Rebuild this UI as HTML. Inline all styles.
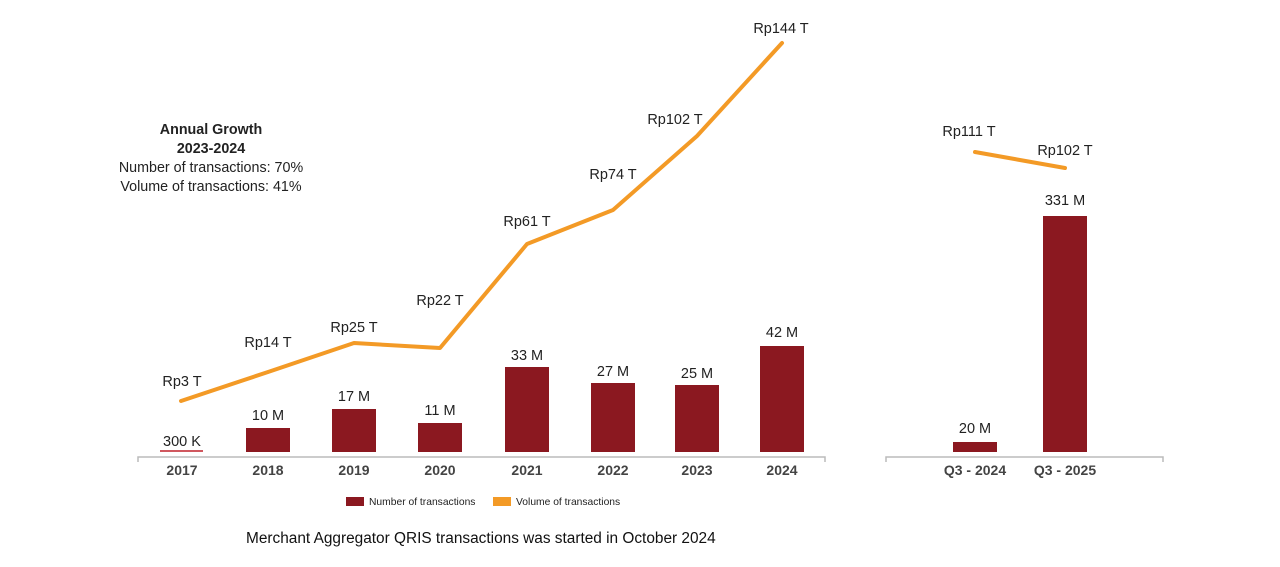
<!DOCTYPE html>
<html><head><style>
html,body{margin:0;padding:0;background:#fff;}
svg{display:block;font-family:"Liberation Sans",sans-serif;}
</style></head><body>
<svg width="1280" height="567" viewBox="0 0 1280 567">
<rect width="1280" height="567" fill="#fff"/>
<g fill="#222" font-size="14.3" text-anchor="middle">
<text x="211" y="134" font-weight="bold">Annual Growth</text>
<text x="211" y="153" font-weight="bold">2023-2024</text>
<text x="211" y="172">Number of transactions: 70%</text>
<text x="211" y="191">Volume of transactions: 41%</text>
</g>
<g stroke="#bbb" stroke-width="1.5" fill="none">
<path d="M138 462 V457 H825 V462"/>
<path d="M886 462 V457 H1163 V462"/>
</g>
<g fill="#8b1820">
<rect x="246" y="428" width="44" height="24"/>
<rect x="332" y="409" width="44" height="43"/>
<rect x="418" y="423" width="44" height="29"/>
<rect x="505" y="367" width="44" height="85"/>
<rect x="591" y="383" width="44" height="69"/>
<rect x="675" y="385" width="44" height="67"/>
<rect x="760" y="346" width="44" height="106"/>
<rect x="953" y="442" width="44" height="10"/>
<rect x="1043" y="216" width="44" height="236"/>
</g>
<line x1="160" y1="451" x2="203" y2="451" stroke="#c0202a" stroke-width="1.5"/>
<g fill="none" stroke="#f39a26" stroke-width="4" stroke-linecap="round" stroke-linejoin="round">
<polyline points="181,401 268,372 354,343 440,348 527,244 613,210 697,136 782,43"/>
<polyline points="975,152 1065,168"/>
</g>
<g fill="#222" font-size="14.5" text-anchor="middle">
<text x="182" y="386">Rp3 T</text>
<text x="268" y="347">Rp14 T</text>
<text x="354" y="332">Rp25 T</text>
<text x="440" y="305">Rp22 T</text>
<text x="527" y="226">Rp61 T</text>
<text x="613" y="179">Rp74 T</text>
<text x="675" y="124">Rp102 T</text>
<text x="781" y="33">Rp144 T</text>
<text x="969" y="136">Rp111 T</text>
<text x="1065" y="155">Rp102 T</text>
<text x="182" y="446">300 K</text>
<text x="268" y="420">10 M</text>
<text x="354" y="401">17 M</text>
<text x="440" y="415">11 M</text>
<text x="527" y="360">33 M</text>
<text x="613" y="376">27 M</text>
<text x="697" y="378">25 M</text>
<text x="782" y="337">42 M</text>
<text x="975" y="433">20 M</text>
<text x="1065" y="205">331 M</text>
</g>
<g fill="#444" font-size="14" font-weight="bold" text-anchor="middle">
<text x="182" y="475">2017</text>
<text x="268" y="475">2018</text>
<text x="354" y="475">2019</text>
<text x="440" y="475">2020</text>
<text x="527" y="475">2021</text>
<text x="613" y="475">2022</text>
<text x="697" y="475">2023</text>
<text x="782" y="475">2024</text>
<text x="975" y="475">Q3 - 2024</text>
<text x="1065" y="475">Q3 - 2025</text>
</g>
<rect x="346" y="497" width="18" height="9" fill="#8b1820"/>
<text x="369" y="505" font-size="10.3" fill="#222">Number of transactions</text>
<rect x="493" y="497" width="18" height="9" fill="#f39a26"/>
<text x="516" y="505" font-size="10.3" fill="#222">Volume of transactions</text>
<text x="246" y="543" font-size="15.4" fill="#111">Merchant Aggregator QRIS transactions was started in October 2024</text>
</svg>
</body></html>
